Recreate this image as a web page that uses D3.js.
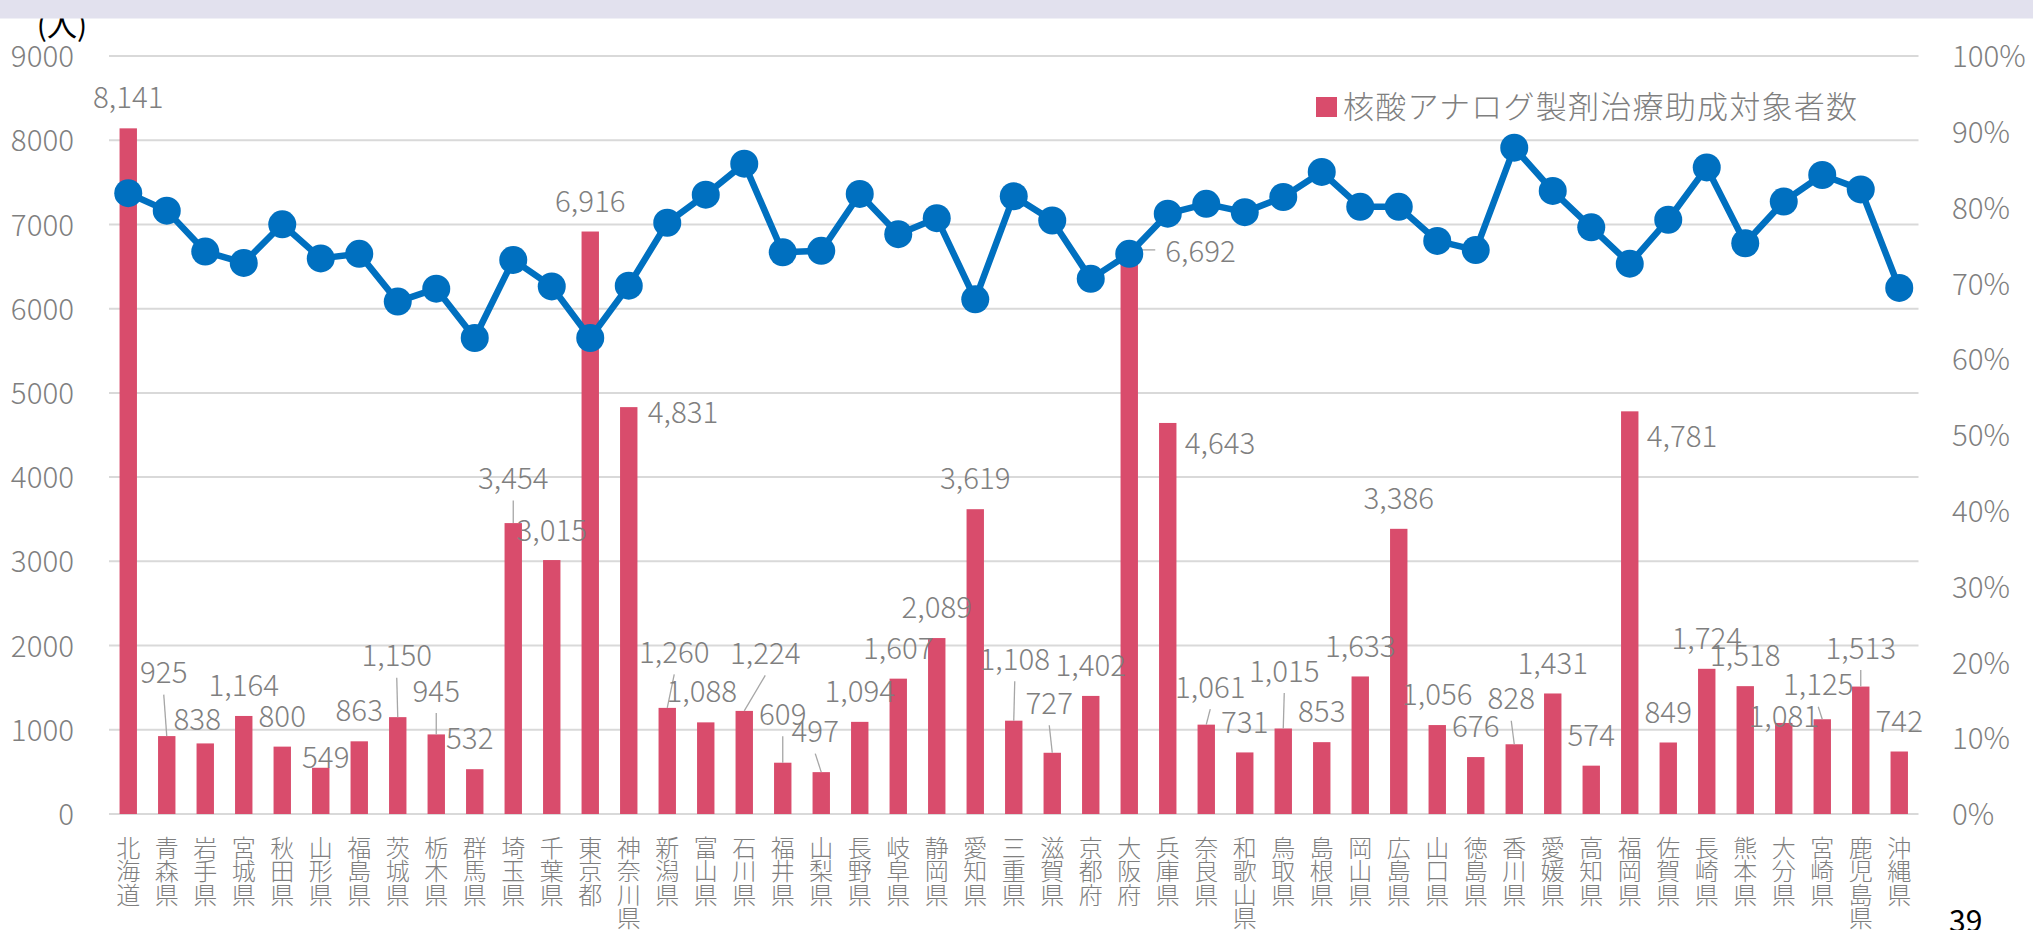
<!DOCTYPE html>
<html>
<head>
<meta charset="utf-8">
<script src="https://cdn.jsdelivr.net/npm/d3@7"></script>
<style>
  body { margin: 0; background: #fff; }
  svg { display: block; }
  text { font-family: "Noto Sans CJK JP", "Noto Sans", sans-serif; }
  .thin { font-weight: 300; }
</style>
</head>
<body>
<svg id="chart" width="2033" height="930"></svg>
<script>
// 都道府県
const prefectures = [
  '北海道', '青森県', '岩手県', '宮城県', '秋田県', '山形県', '福島県', '茨城県', '栃木県', '群馬県',
  '埼玉県', '千葉県', '東京都', '神奈川県', '新潟県', '富山県', '石川県', '福井県', '山梨県', '長野県',
  '岐阜県', '静岡県', '愛知県', '三重県', '滋賀県', '京都府', '大阪府', '兵庫県', '奈良県', '和歌山県',
  '鳥取県', '島根県', '岡山県', '広島県', '山口県', '徳島県', '香川県', '愛媛県', '高知県', '福岡県',
  '佐賀県', '長崎県', '熊本県', '大分県', '宮崎県', '鹿児島県', '沖縄県'
];

// 核酸アナログ製剤治療助成対象者数 (人)
const recipients = [
  8141, 925, 838, 1164, 800, 549, 863, 1150, 945, 532,
  3454, 3015, 6916, 4831, 1260, 1088, 1224, 609, 497, 1094,
  1607, 2089, 3619, 1108, 727, 1402, 6692, 4643, 1061, 731,
  1015, 853, 1633, 3386, 1056, 676, 828, 1431, 574, 4781,
  849, 1724, 1518, 1081, 1125, 1513, 742
];

// 折れ線 (右軸, %)
const ratio = [
  81.9, 79.6, 74.2, 72.7, 77.8, 73.3, 73.9, 67.6, 69.3, 62.8,
  73.1, 69.6, 62.8, 69.7, 78.0, 81.7, 85.8, 74.1, 74.3, 81.8,
  76.5, 78.6, 67.9, 81.5, 78.3, 70.6, 73.9, 79.2, 80.5, 79.4,
  81.4, 84.7, 80.1, 80.1, 75.6, 74.4, 87.9, 82.2, 77.4, 72.6,
  78.4, 85.3, 75.3, 80.8, 84.3, 82.4, 69.4
];

const leftTicks = [0, 1000, 2000, 3000, 4000, 5000, 6000, 7000, 8000, 9000];
const rightTicks = [0, 10, 20, 30, 40, 50, 60, 70, 80, 90, 100];
const legendLabel = '核酸アナログ製剤治療助成対象者数';
const unitLabel = '(人)';
const pageNumber = '39';

// label placement tweaks (moved labels, like in the original workbook)
const labelNudge = {
  '青森県': { dx: -3, dy: -33, leader: true },
  '岩手県': { dx: -8, dy: 6 },
  '山形県': { dx: 5, dy: 20 },
  '茨城県': { dx: -1, dy: -31, leader: true },
  '栃木県': { dx: 0, dy: -13, leader: true },
  '群馬県': { dx: -5, dy: 0 },
  '埼玉県': { dx: 0, dy: -14, leader: true },
  '千葉県': { dx: 0, dy: 1 },
  '新潟県': { dx: 7, dy: -25, leader: true },
  '富山県': { dx: -4, dy: 0 },
  '石川県': { dx: 21, dy: -27, leader: true },
  '福井県': { dx: 0, dy: -18, leader: true },
  '山梨県': { dx: -6, dy: -10, leader: true },
  '三重県': { dx: 1, dy: -31, leader: true },
  '滋賀県': { dx: -3, dy: -19, leader: true },
  '奈良県': { dx: 4, dy: -7, leader: true },
  '鳥取県': { dx: 1, dy: -27, leader: true },
  '香川県': { dx: -3, dy: -15, leader: true },
  '大分県': { dx: 0, dy: 24 },
  '宮崎県': { dx: -4, dy: -4, leader: true },
  '鹿児島県': { dx: 0, dy: -8, leader: true }
};
// labels put beside the bar instead of above it
const sideLabels = {
  '神奈川県': { dx: 19, dy: 5 },
  '大阪府': { dx: 36, dy: 1, leader: true },
  '兵庫県': { dx: 17, dy: 20 },
  '福岡県': { dx: 17, dy: 25 }
};

const W = 2033, H = 930;
const plot = { left: 109, right: 1918.5, top: 56, bottom: 814 };
const barColor = '#d94c6c';
const lineColor = '#0070c0';
const textGrey = '#7f7f7f';
const fontSize = 29.5;

const svg = d3.select('#chart');

const x = d3.scaleBand()
  .domain(prefectures)
  .range([plot.left, plot.right])
  .paddingInner(0.548)
  .paddingOuter(0.274);

const y = d3.scaleLinear().domain([0, 9000]).range([plot.bottom, plot.top]);
const y2 = d3.scaleLinear().domain([0, 100]).range([plot.bottom, plot.top]);

const rows = prefectures.map((p, i) => ({ pref: p, value: recipients[i], pct: ratio[i] }));
const cx = d => x(d.pref) + x.bandwidth() / 2;

// gridlines
svg.append('g')
  .selectAll('line')
  .data(leftTicks)
  .join('line')
  .attr('x1', plot.left)
  .attr('x2', plot.right)
  .attr('y1', d => y(d))
  .attr('y2', d => y(d))
  .attr('stroke', '#d9d9d9')
  .attr('stroke-width', 2);

// left axis
const leftAxis = svg.append('g')
  .attr('transform', 'translate(74,0)')
  .call(d3.axisLeft(y).tickValues(leftTicks).tickSize(0).tickPadding(0).tickFormat(d3.format('d')));
leftAxis.select('.domain').remove();
leftAxis.selectAll('text')
  .attr('class', 'thin')
  .attr('font-size', fontSize)
  .attr('fill', textGrey)
  .attr('font-family', '"Noto Sans CJK JP", sans-serif')
  .attr('dy', '0.36em');

// right axis
const rightAxis = svg.append('g')
  .attr('transform', 'translate(1952,0)')
  .call(d3.axisRight(y2).tickValues(rightTicks).tickSize(0).tickPadding(0).tickFormat(d => d + '%'));
rightAxis.select('.domain').remove();
rightAxis.selectAll('text')
  .attr('class', 'thin')
  .attr('font-size', fontSize)
  .attr('fill', textGrey)
  .attr('font-family', '"Noto Sans CJK JP", sans-serif')
  .attr('dy', '0.36em');

// bars
svg.append('g')
  .selectAll('rect')
  .data(rows)
  .join('rect')
  .attr('x', d => x(d.pref))
  .attr('width', x.bandwidth())
  .attr('y', d => y(d.value))
  .attr('height', d => y(0) - y(d.value))
  .attr('fill', barColor);

// data label positions
const fmt = d3.format(',');
rows.forEach(d => {
  const top = y(d.value);
  if (sideLabels[d.pref]) {
    const s = sideLabels[d.pref];
    d.lx = cx(d) + s.dx;
    d.ly = top + s.dy;
    d.anchor = 'start';
    d.side = true;
    d.leader = !!s.leader;
  } else {
    const n = labelNudge[d.pref] || { dx: 0, dy: 0 };
    d.lx = cx(d) + n.dx;
    d.ly = top - 30.5 + n.dy;
    d.anchor = 'middle';
    d.leader = !!n.leader;
  }
});

// leader lines
svg.append('g')
  .selectAll('line')
  .data(rows.filter(d => d.leader))
  .join('line')
  .attr('x1', d => d.side ? cx(d) + 2 : d.lx)
  .attr('y1', d => d.side ? d.ly - 1.5 : d.ly + 22)
  .attr('x2', d => d.side ? d.lx - 10 : cx(d))
  .attr('y2', d => d.side ? d.ly - 1.5 : y(d.value))
  .attr('stroke', '#a6a6a6')
  .attr('stroke-width', 1.3);

// ratio line
const line = d3.line().x(cx).y(d => y2(d.pct));
svg.append('path')
  .datum(rows)
  .attr('d', line)
  .attr('fill', 'none')
  .attr('stroke', lineColor)
  .attr('stroke-width', 6.5)
  .attr('stroke-linejoin', 'round');

svg.append('g')
  .selectAll('circle')
  .data(rows)
  .join('circle')
  .attr('cx', cx)
  .attr('cy', d => y2(d.pct))
  .attr('r', 14)
  .attr('fill', lineColor);

// data labels
svg.append('g')
  .selectAll('text')
  .data(rows)
  .join('text')
  .attr('class', 'thin')
  .attr('x', d => d.lx)
  .attr('y', d => d.ly)
  .attr('dy', '0.36em')
  .attr('text-anchor', d => d.anchor)
  .attr('font-size', fontSize)
  .attr('fill', textGrey)
  .text(d => fmt(d.value));

// category labels, stacked vertically one character per line
const cat = svg.append('g')
  .selectAll('text')
  .data(prefectures)
  .join('text')
  .attr('class', 'thin')
  .attr('x', d => x(d) + x.bandwidth() / 2)
  .attr('y', 857)
  .attr('text-anchor', 'middle')
  .attr('font-size', 24)
  .attr('fill', textGrey);
cat.selectAll('tspan')
  .data(d => Array.from(d))
  .join('tspan')
  .attr('x', function () { return this.parentNode.getAttribute('x'); })
  .attr('dy', (c, i) => i === 0 ? 0 : 23.3)
  .text(c => c);

// legend
svg.append('rect')
  .attr('x', 1316)
  .attr('y', 97)
  .attr('width', 21)
  .attr('height', 20)
  .attr('fill', barColor);
svg.append('text')
  .attr('class', 'thin')
  .attr('x', 1343)
  .attr('y', 107)
  .attr('dy', '0.36em')
  .attr('font-size', 31)
  .attr('fill', textGrey)
  .attr('textLength', 514)
  .attr('lengthAdjust', 'spacing')
  .text(legendLabel);

// unit label, partly hidden under the top band
svg.append('text')
  .attr('x', 62)
  .attr('y', 25)
  .attr('dy', '0.36em')
  .attr('text-anchor', 'middle')
  .attr('font-size', 30)
  .attr('fill', '#000')
  .text(unitLabel);

svg.append('rect')
  .attr('x', 0)
  .attr('y', 0)
  .attr('width', W)
  .attr('height', 18.5)
  .attr('fill', '#e2e1ee');

// page number
svg.append('text')
  .attr('x', 1949)
  .attr('y', 932)
  .attr('font-size', 30)
  .attr('fill', '#000')
  .text(pageNumber);
</script>
</body>
</html>
